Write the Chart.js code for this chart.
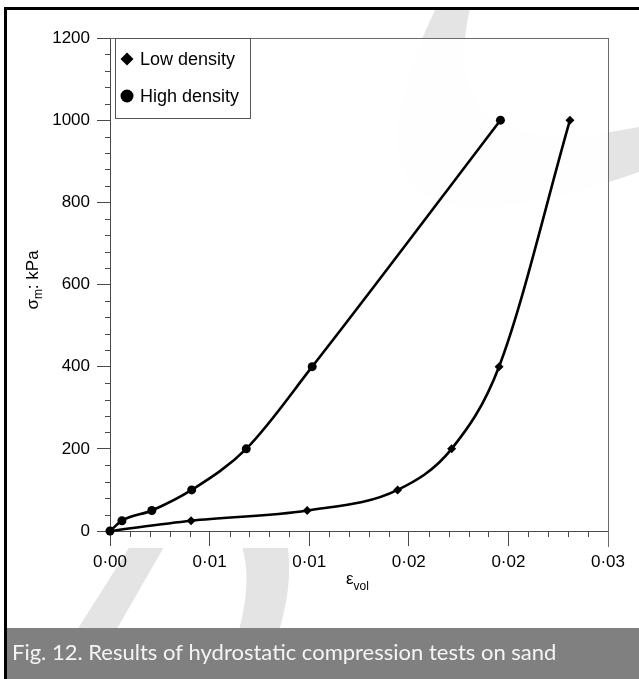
<!DOCTYPE html>
<html>
<head>
<meta charset="utf-8">
<script src="https://cdn.jsdelivr.net/npm/chart.js@4.4.1/dist/chart.umd.min.js"></script>
<style>
  html, body { margin: 0; padding: 0; background: #fff; }
  #wrap { width: 639px; height: 679px; }
</style>
</head>
<body>
<div id="wrap"><canvas id="chart" width="639" height="679"></canvas></div>
<script>
// Hydrostatic compression of sand: mean stress vs volumetric strain
const seriesNames = ['Low density', 'High density'];

const lowStrain  = [0, 0.00407, 0.0099, 0.01444, 0.01715, 0.01953, 0.02309];
const lowStress  = [0, 25, 50, 100, 200, 400, 1000];

const highStrain = [0, 0.0006, 0.0021, 0.0041, 0.00684, 0.01015, 0.0196];
const highStress = [0, 25, 50, 100, 200, 400, 1000];

const xTickValues = [0, 0.005, 0.01, 0.015, 0.02, 0.025];
const xTickLabels = ['0·00', '0·01', '0·01', '0·02', '0·02', '0·03'];
const yTickValues = [0, 200, 400, 600, 800, 1000, 1200];
const yTickLabels = ['0', '200', '400', '600', '800', '1000', '1200'];

const captionText = 'Fig. 12. Results of hydrostatic compression tests on sand';
const MINOR_PER_MAJOR = 5;

const TICK_FONT = { family: '"Liberation Sans", Arial, sans-serif', size: 17 };
const AXIS_GREY = '#4a4a4a';

function toPoints(xs, ys) { return xs.map((x, i) => ({ x: x, y: ys[i] })); }

// page decoration behind the figure: frame, background swooshes, caption bar
const pageBackground = {
  id: 'pageBackground',
  beforeDraw(chart) {
    const ctx = chart.ctx;
    const W = chart.width, H = chart.height;
    ctx.save();
    ctx.fillStyle = '#ffffff';
    ctx.fillRect(0, 0, W, H);

    // light grey swooshes
    ctx.fillStyle = '#e4e4e4';
    ctx.beginPath();
    ctx.moveTo(436, 8);
    ctx.quadraticCurveTo(300, 292, 639, 172);
    ctx.lineTo(639, 127);
    ctx.quadraticCurveTo(433, 168, 470, 8);
    ctx.closePath();
    ctx.fill();

    ctx.beginPath();
    ctx.moveTo(134, 540);
    ctx.lineTo(168, 540);
    ctx.lineTo(88, 679);
    ctx.lineTo(46, 679);
    ctx.closePath();
    ctx.fill();

    ctx.beginPath();
    ctx.moveTo(240, 540);
    ctx.bezierCurveTo(252, 575, 248, 610, 224, 679);
    ctx.lineTo(262, 679);
    ctx.bezierCurveTo(290, 610, 292, 575, 287, 540);
    ctx.closePath();
    ctx.fill();

    // the figure panel sits over the swooshes
    ctx.fillStyle = 'rgba(255,255,255,0.96)';
    ctx.fillRect(108, 38, 501, 510);

    // frame
    ctx.fillStyle = '#000';
    ctx.fillRect(4, 7, W - 4, 3);
    ctx.fillRect(4, 7, 3, H - 7);

    // caption bar
    ctx.fillStyle = '#808080';
    ctx.fillRect(7, 628, W - 7, H - 628);
    ctx.fillStyle = '#f4f4f4';
    ctx.font = '22px Lato, "Open Sans", sans-serif';
    ctx.textAlign = 'left';
    ctx.textBaseline = 'alphabetic';
    ctx.fillText(captionText, 12, 660);
    ctx.restore();
  }
};

// minor ticks, top/right frame, legend box and axis titles with subscripts
const figureDetails = {
  id: 'figureDetails',
  afterDraw(chart) {
    const ctx = chart.ctx;
    const xs = chart.scales.x, ys = chart.scales.y;
    const area = chart.chartArea;
    ctx.save();
    ctx.strokeStyle = AXIS_GREY;
    ctx.lineWidth = 1;

    // minor ticks
    ctx.beginPath();
    for (let i = 0; i < xTickValues.length - 1; i++) {
      const a = xTickValues[i], b = xTickValues[i + 1];
      for (let k = 1; k < MINOR_PER_MAJOR; k++) {
        const px = Math.round(xs.getPixelForValue(a + (b - a) * k / MINOR_PER_MAJOR)) + 0.5;
        ctx.moveTo(px, area.bottom);
        ctx.lineTo(px, area.bottom + 6);
      }
    }
    for (let i = 0; i < yTickValues.length - 1; i++) {
      const a = yTickValues[i], b = yTickValues[i + 1];
      for (let k = 1; k < MINOR_PER_MAJOR; k++) {
        const py = Math.round(ys.getPixelForValue(a + (b - a) * k / MINOR_PER_MAJOR)) + 0.5;
        ctx.moveTo(area.left - 5, py);
        ctx.lineTo(area.left, py);
      }
    }
    ctx.stroke();

    // top and right frame of the plot
    ctx.strokeStyle = '#6a6a6a';
    ctx.beginPath();
    ctx.moveTo(area.left, Math.round(area.top) + 0.5);
    ctx.lineTo(area.right, Math.round(area.top) + 0.5);
    ctx.moveTo(Math.round(area.right) + 0.5, area.top);
    ctx.lineTo(Math.round(area.right) + 0.5, area.bottom + 16);
    ctx.stroke();

    // legend
    const lx = 115.5, ly = 38.5, lw = 135, lh = 80;
    ctx.fillStyle = '#fff';
    ctx.fillRect(lx, ly, lw, lh);
    ctx.strokeStyle = '#555';
    ctx.strokeRect(lx, ly, lw, lh);
    ctx.fillStyle = '#000';
    const rows = [59, 96];
    chart.data.datasets.forEach((ds, i) => {
      const cy = rows[i], cx = 127;
      ctx.beginPath();
      if (ds.pointStyle === 'rectRot') {
        ctx.moveTo(cx, cy - 6.5);
        ctx.lineTo(cx + 6.5, cy);
        ctx.lineTo(cx, cy + 6.5);
        ctx.lineTo(cx - 6.5, cy);
        ctx.closePath();
      } else {
        ctx.arc(cx, cy, 6.5, 0, Math.PI * 2);
      }
      ctx.fill();
      ctx.font = '18px "Liberation Sans", Arial, sans-serif';
      ctx.textAlign = 'left';
      ctx.textBaseline = 'middle';
      ctx.fillText(ds.label, 140, cy + 1);
    });

    // y axis title: sigma_m: kPa
    ctx.save();
    ctx.translate(38, 280);
    ctx.rotate(-Math.PI / 2);
    ctx.textBaseline = 'alphabetic';
    ctx.textAlign = 'left';
    const big = '17px "Liberation Sans", Arial, sans-serif';
    const small = '12px "Liberation Sans", Arial, sans-serif';
    ctx.font = big;
    const wSig = ctx.measureText('σ').width;
    ctx.font = small;
    const wM = ctx.measureText('m').width;
    ctx.font = big;
    const wRest = ctx.measureText(': kPa').width;
    let x0 = -(wSig + wM + wRest) / 2;
    ctx.fillText('σ', x0, 0);
    ctx.font = small;
    ctx.fillText('m', x0 + wSig, 4);
    ctx.font = big;
    ctx.fillText(': kPa', x0 + wSig + wM, 0);
    ctx.restore();

    // x axis title: epsilon_vol
    ctx.font = big;
    ctx.textAlign = 'left';
    ctx.textBaseline = 'alphabetic';
    ctx.fillText('ε', 346, 584);
    const wEps = ctx.measureText('ε').width;
    ctx.font = small;
    ctx.fillText('vol', 346 + wEps, 590);

    ctx.restore();
  }
};

new Chart(document.getElementById('chart'), {
  type: 'scatter',
  data: {
    datasets: [
      {
        label: seriesNames[0],
        data: toPoints(lowStrain, lowStress),
        showLine: true,
        borderColor: '#000',
        backgroundColor: '#000',
        borderWidth: 2.6,
        pointStyle: 'rectRot',
        pointRadius: 4.5,
        pointBorderWidth: 0,
        cubicInterpolationMode: 'monotone',
        clip: false
      },
      {
        label: seriesNames[1],
        data: toPoints(highStrain, highStress),
        showLine: true,
        borderColor: '#000',
        backgroundColor: '#000',
        borderWidth: 2.6,
        pointStyle: 'circle',
        pointRadius: 4.5,
        pointBorderWidth: 0,
        cubicInterpolationMode: 'monotone',
        clip: false
      }
    ]
  },
  options: {
    responsive: false,
    animation: false,
    devicePixelRatio: 1,
    layout: { padding: { left: 10, right: 31, top: 38, bottom: 88 } },
    plugins: {
      legend: { display: false },
      tooltip: { enabled: false },
      title: { display: false }
    },
    scales: {
      x: {
        type: 'linear',
        min: xTickValues[0],
        max: xTickValues[xTickValues.length - 1],
        afterBuildTicks: (scale) => { scale.ticks = xTickValues.map(v => ({ value: v })); },
        afterFit: (scale) => { scale.height = 60; },
        border: { display: true, color: AXIS_GREY, width: 1 },
        grid: { display: true, drawOnChartArea: false, drawTicks: true, tickLength: 15, color: AXIS_GREY },
        ticks: {
          color: '#000',
          font: TICK_FONT,
          padding: 6,
          maxRotation: 0,
          autoSkip: false,
          callback: (v, i) => xTickLabels[i]
        }
      },
      y: {
        type: 'linear',
        min: yTickValues[0],
        max: yTickValues[yTickValues.length - 1],
        afterBuildTicks: (scale) => { scale.ticks = yTickValues.map(v => ({ value: v })); },
        afterFit: (scale) => { scale.width = 100; },
        border: { display: true, color: AXIS_GREY, width: 1 },
        grid: { display: true, drawOnChartArea: false, drawTicks: true, tickLength: 13, color: AXIS_GREY },
        ticks: {
          color: '#000',
          font: TICK_FONT,
          padding: 7,
          autoSkip: false,
          callback: (v, i) => yTickLabels[i]
        }
      }
    }
  },
  plugins: [pageBackground, figureDetails]
});
</script>
</body>
</html>
